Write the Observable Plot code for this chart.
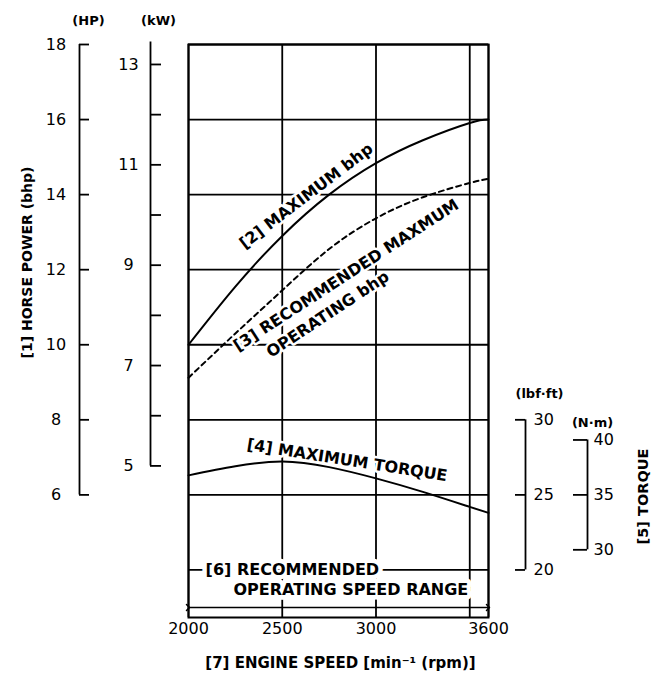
<!DOCTYPE html>
<html><head><meta charset="utf-8">
<script src="https://cdn.jsdelivr.net/npm/d3@7"></script>
<script src="https://cdn.jsdelivr.net/npm/@observablehq/plot@0.6"></script>
<style>html,body{margin:0;padding:0;background:#fff;}</style>
</head><body><div id="chart"></div>
<script>
// ---- data ----
const rpm = [2000, 2250, 2500, 2750, 3000, 3250, 3500, 3600];
const maxBhp = [10.0, 11.55, 12.9, 14.0, 14.84, 15.45, 15.91, 16.0];    // HP
const recBhp = [9.12, 10.3, 11.45, 12.55, 13.37, 13.93, 14.31, 14.42];  // HP
const torqueRpm = [2000, 2250, 2500, 2750, 3000, 3250, 3500, 3600];
const maxTorque = [26.3, 26.9, 27.22, 26.85, 26.1, 25.2, 24.2, 23.8]; // lbf·ft
const speedTicks = [2000, 2500, 3000, 3600];
const speedGrid = [2000, 2500, 3000, 3500, 3600];
const hpTicks = [6, 8, 10, 12, 14, 16, 18];
const hpGrid = [4, 6, 8, 10, 12, 14, 16, 18];
const kwTicks = [5, 6, 7, 8, 9, 10, 11, 12, 13];
const kwLabels = [5, 7, 9, 11, 13];
const lbfTicks = [20, 25, 30];
const nmTicks = [30, 35, 40];
const speedRange = [2000, 3600];

// ---- scale conversions (all secondary axes expressed in HP units) ----
const kwY = k => 6.772 + (k - 5) * 1.337;
const lbfY = t => (t - 10) / 2.5;
const nmY = n => 6 + (n - 35) * 0.2927;

// ---- layout ----
const W = 651, H = 675, TOP = 44, BOT = 58, FL = 188, FR = 488;
const at = (px, py) => ({frameAnchor: "top-left", dx: px - FL, dy: py - TOP, lineAnchor: "middle"});
const seg = (a, b) => ({insetLeft: a - FL, insetRight: FR - b});
const F = "DejaVu Sans";
const bold = {fontFamily: F, fontWeight: "bold", fill: "black"};
const halo = {stroke: "white", strokeWidth: 5, paintOrder: "stroke"};

const maxRows = rpm.map((r, i) => ({rpm: r, v: maxBhp[i]}));
const recRows = rpm.map((r, i) => ({rpm: r, v: recBhp[i]}));
const tqRows = torqueRpm.map((r, i) => ({rpm: r, v: lbfY(maxTorque[i])}));

const curveLabels = [
  {t: "[2] MAXIMUM bhp", rpm: 2628, v: 13.96, r: -37.3},
  {t: "[3] RECOMMENDED MAXMUM", rpm: 2841, v: 11.85, r: -33},
  {t: "OPERATING bhp", rpm: 2743, v: 10.81, r: -33.5},
  {t: "[4] MAXIMUM TORQUE", rpm: 2846, v: 6.92, r: 9}
];
const rangeLabels = [
  {t: "[6] RECOMMENDED", rpm: 2091, v: 4.01},
  {t: "OPERATING SPEED RANGE", rpm: 2240, v: 3.48}
];

const lw = 1.8;
const chart = Plot.plot({
  width: W, height: H,
  marginLeft: FL, marginRight: W - FR, marginTop: TOP, marginBottom: BOT,
  x: {domain: speedRange, label: null},
  y: {domain: [2.733, 18], axis: null},
  style: {fontFamily: F, background: "white", color: "black"},
  marks: [
    // grid and frame
    Plot.ruleY(hpGrid, {stroke: "black", strokeWidth: lw}),
    Plot.ruleX(speedGrid, {stroke: "black", strokeWidth: lw}),
    Plot.frame({stroke: "black", strokeWidth: 2}),

    // curves
    Plot.line(maxRows, {x: "rpm", y: "v", curve: "natural", stroke: "black", strokeWidth: 2}),
    Plot.line(recRows, {x: "rpm", y: "v", curve: "natural", stroke: "black", strokeWidth: 2, strokeDasharray: "5,4"}),
    Plot.line(tqRows, {x: "rpm", y: "v", curve: "natural", stroke: "black", strokeWidth: 2}),

    // operating range arrow
    Plot.ruleY([{y: 3.0, a: speedRange[0], b: speedRange[1]}], {y: "y", x1: "a", x2: "b", stroke: "black", strokeWidth: 1.5, markerStart: "arrow", markerEnd: "arrow"}),

    // curve labels
    Plot.text(curveLabels, {x: "rpm", y: "v", text: "t", rotate: "r", fontSize: 16, ...bold, ...halo}),
    Plot.text(rangeLabels, {x: "rpm", y: "v", text: "t", textAnchor: "start", fontSize: 16, ...bold, ...halo, strokeWidth: 9}),

    // x axis
    Plot.axisX(speedTicks, {anchor: "bottom", tickSize: 0, tickPadding: 5, fontSize: 16, fontFamily: F, tickFormat: d => String(d), label: null}),
    Plot.text(["[7] ENGINE SPEED [min\u207B\u00B9 (rpm)]"], {text: d => d, ...at(340, 663), textAnchor: "middle", fontSize: 15, ...bold}),

    // HP axis
    Plot.ruleX([speedRange[0]], {y1: 6, y2: 18, dx: 79 - FL, stroke: "black", strokeWidth: lw}),
    Plot.ruleY(hpTicks, {y: d => d, ...seg(79, 89), stroke: "black", strokeWidth: lw}),
    Plot.text(hpTicks, {y: d => d, text: d => String(d), frameAnchor: "left", dx: 55.5 - FL, textAnchor: "middle", fontSize: 16, fill: "black"}),
    Plot.text(["(HP)"], {text: d => d, ...at(88, 20), textAnchor: "middle", fontSize: 13, ...bold}),

    // kW axis
    Plot.ruleX([speedRange[0]], {y1: kwY(5), y2: kwY(13.45), dx: 150 - FL, stroke: "black", strokeWidth: lw}),
    Plot.ruleY(kwTicks, {y: kwY, ...seg(150, 161), stroke: "black", strokeWidth: lw}),
    Plot.text(kwLabels, {y: kwY, text: d => String(d), frameAnchor: "left", dx: 128 - FL, textAnchor: "middle", fontSize: 16, fill: "black"}),
    Plot.text(["(kW)"], {text: d => d, ...at(158, 20), textAnchor: "middle", fontSize: 13, ...bold}),

    // lbf·ft axis
    Plot.ruleX([speedRange[1]], {y1: lbfY(20), y2: lbfY(30), dx: 525 - FR, stroke: "black", strokeWidth: lw}),
    Plot.ruleY(lbfTicks, {y: lbfY, ...seg(515, 525), stroke: "black", strokeWidth: lw}),
    Plot.text(lbfTicks, {y: lbfY, text: d => String(d), frameAnchor: "right", dx: 533 - FR, textAnchor: "start", fontSize: 16, fill: "black"}),
    Plot.text(["(lbf\u00B7ft)"], {text: d => d, ...at(539, 393), textAnchor: "middle", fontSize: 13, ...bold}),

    // N·m axis
    Plot.ruleX([speedRange[1]], {y1: nmY(30), y2: nmY(40), dx: 587 - FR, stroke: "black", strokeWidth: lw}),
    Plot.ruleY(nmTicks, {y: nmY, ...seg(573, 587), stroke: "black", strokeWidth: lw}),
    Plot.text(nmTicks, {y: nmY, text: d => String(d), frameAnchor: "right", dx: 593 - FR, textAnchor: "start", fontSize: 16, fill: "black"}),
    Plot.text(["(N\u00B7m)"], {text: d => d, ...at(592, 422), textAnchor: "middle", fontSize: 13, ...bold}),

    // axis titles
    Plot.text(["[1] HORSE POWER (bhp)"], {text: d => d, ...at(27, 262), rotate: -90, textAnchor: "middle", fontSize: 14, ...bold}),
    Plot.text(["[5] TORQUE"], {text: d => d, ...at(643, 496), rotate: -90, textAnchor: "middle", fontSize: 14.5, ...bold})
  ]
});
document.getElementById("chart").appendChild(chart);
</script>
</body></html>
